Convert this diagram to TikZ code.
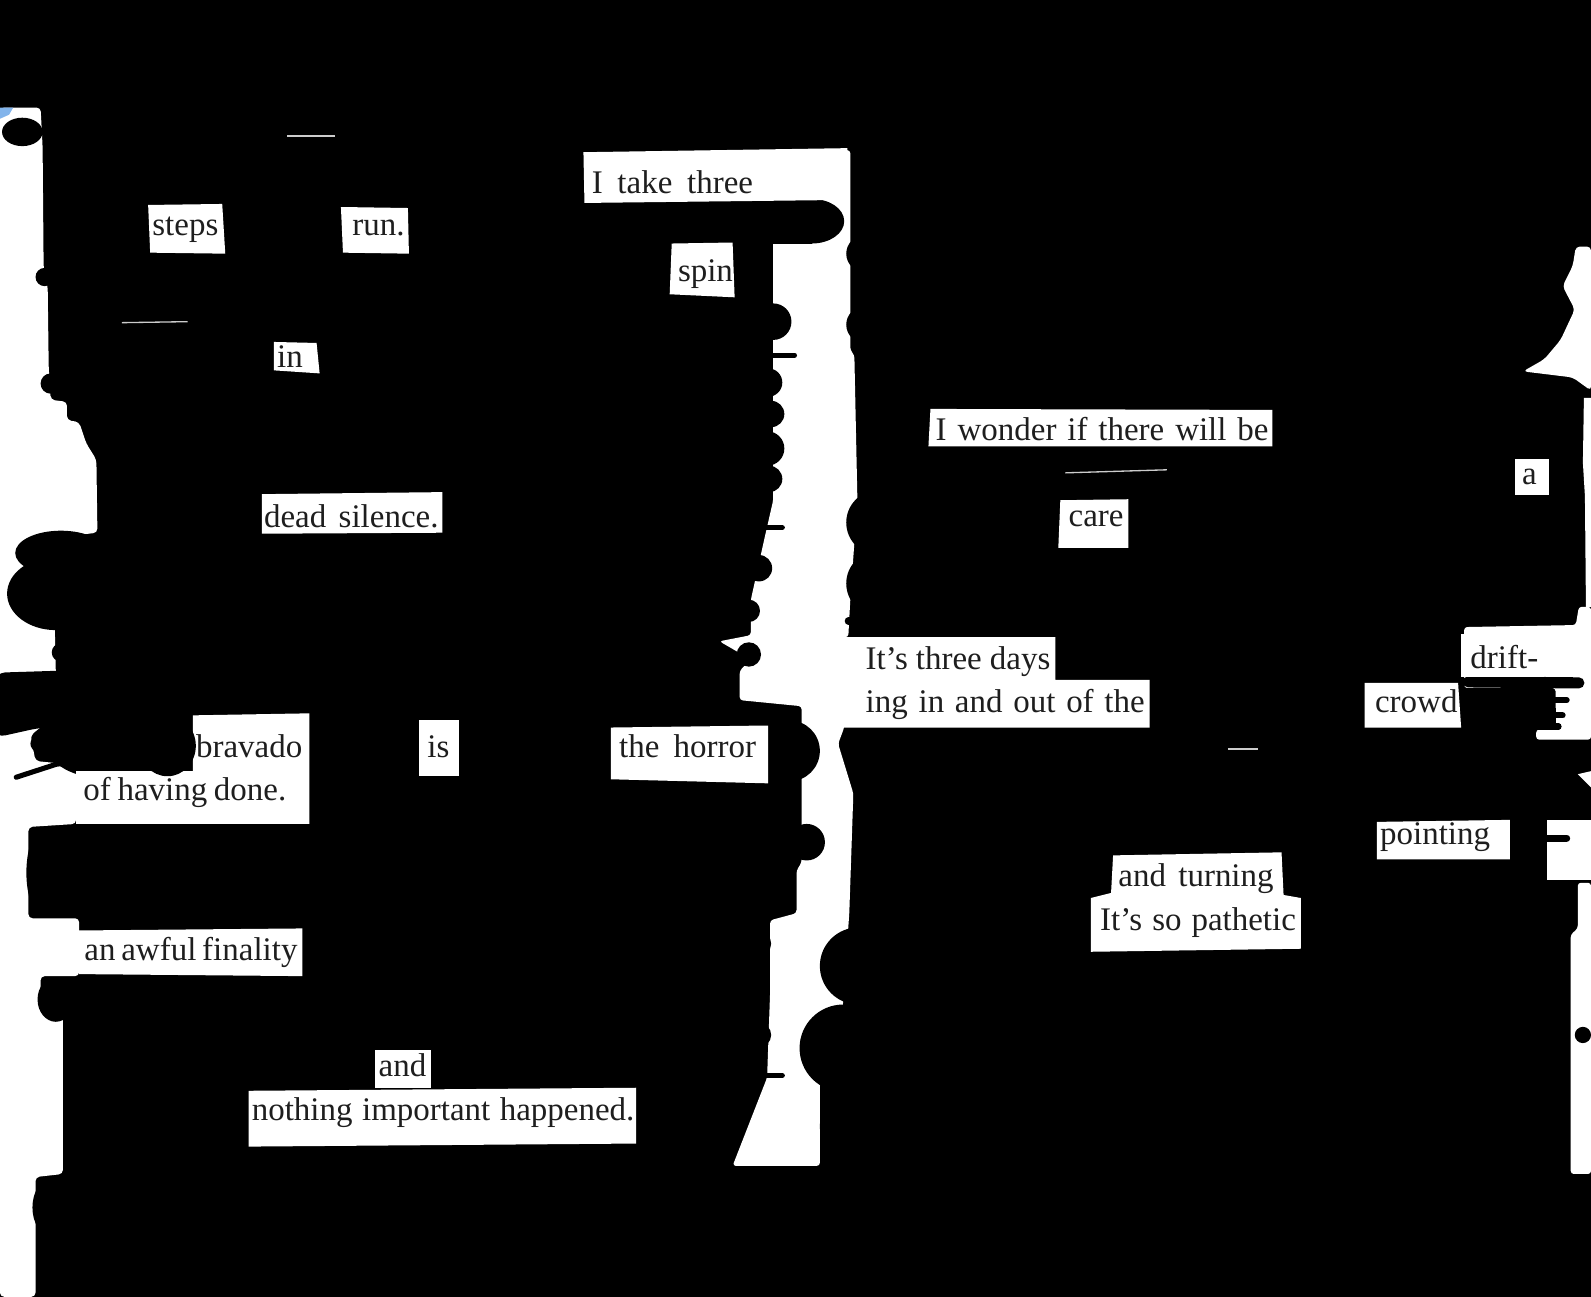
\documentclass[tikz,border=0pt]{standalone}
\usepackage{fontspec}
\setmainfont{Liberation Serif}
\definecolor{tint}{RGB}{130,180,235}
\definecolor{inkgray}{RGB}{30,30,30}
\newcommand{\spreadto}[2]{\makebox[#1pt][s]{#2}}
\begin{document}
\begin{tikzpicture}[x=1pt,y=-1pt,
  paper/.style={fill=white,draw=none},
  blot/.style={fill=black,draw=none},
  mk/.style={draw=black,line width=6pt,line cap=round},
  scratch/.style={draw=white!80!black,line width=1.3pt},
  word/.style={anchor=base west,inner sep=0pt,text=inkgray,font=\fontsize{32.5}{38}\selectfont}]
\useasboundingbox (0,0) rectangle (1568,1278);
\fill[black] (0,0) rectangle (1568,1278);

% ---------- left margin ----------
\fill[paper,rounded corners=4pt] (0,106) -- (40,106) -- (42,145) -- (43,264) -- (47,283) -- (48,362)
  -- (50,394) -- (66,396) -- (66,414) -- (78,416) -- (85,437) -- (95,453) -- (96,525) -- (52,530)
  -- (55,663) -- (60,700) -- (30,725) -- (35,750) -- (75,754) -- (75,812) -- (28,815) -- (28,905)
  -- (78,905) -- (78,962) -- (40,962) -- (40,990) -- (62,1000) -- (62,1157) -- (35,1160)
  -- (35,1278) -- (0,1278) -- cycle;
\fill[tint] (0,106) -- (13,106) -- (9,113) -- (0,117) -- cycle;
\fill[blot] (22,130) ellipse [x radius=20, y radius=14];
\fill[blot] (44,273) circle (9);
\fill[blot] (50,378) circle (10);
% blob reaching the edge above the band
\fill[blot] (60,545) ellipse [x radius=45, y radius=22];
\fill[blot] (55,585) ellipse [x radius=48, y radius=36];
\fill[blot] (60,643) circle (9);
% band to the left edge
\fill[blot,rounded corners=10pt] (-5,663) -- (90,660) -- (90,716) -- (40,717) -- (-5,727) -- cycle;
\fill[blot] (50,733) ellipse [x radius=20, y radius=12];
\fill[blot] (110,740) ellipse [x radius=60, y radius=28];
\draw[mk,line width=5pt] (16,766) -- (56,753) -- (110,750);
\fill[blot] (40,860) ellipse [x radius=14, y radius=40];
\fill[blot] (55,985) ellipse [x radius=18, y radius=22];
\fill[blot] (50,1190) ellipse [x radius=18, y radius=28];
\fill[blot] (55,1250) ellipse [x radius=12, y radius=22];

% ---------- gutter ----------
\fill[paper,rounded corners=3pt] (740,148) -- (838,148) -- (838,345) -- (842,350) -- (845,493) -- (838,591)
  -- (836,628) -- (832,628) -- (832,717) -- (826,733) -- (841,782) -- (837,900) -- (830,1000)
  -- (808,1068) -- (808,1149) -- (722,1149) -- (756,1062) -- (759,977) -- (759,907) -- (785,900)
  -- (785,858) -- (790,850) -- (790,696) -- (729,690) -- (729,661) -- (740,650) -- (709,632)
  -- (740,626) -- (740,591) -- (754,528) -- (762,493) -- (762,240) -- (760,197) -- (740,197) -- cycle;
% left-page bulges into the gutter
\fill[blot] (740,196) rectangle (800,240);
\fill[blot] (800,218) ellipse [x radius=32, y radius=22];
\fill[blot] (762,317) circle (18);
\draw[mk,line width=5pt] (758,350) -- (783,350);
\fill[blot] (757,377) circle (14);
\fill[blot] (760,408) circle (13);
\fill[blot] (756,442) circle (17);
\fill[blot] (758,472) circle (13);
\draw[mk,line width=5pt] (755,520) -- (771,520);
\fill[blot] (748,560) circle (13);
\fill[blot] (738,602) circle (11);
\fill[blot] (738,645) circle (12);
\fill[blot] (778,740) circle (30);
\fill[blot] (795,830) circle (18);
\fill[blot] (748,930) circle (12);
\fill[blot] (748,1020) circle (12);
\draw[mk,line width=5pt] (755,1060) -- (771,1060);
% right-page bulges into the gutter
\fill[blot] (852,250) circle (18);
\fill[blot] (852,320) circle (18);
\fill[blot] (866,515) circle (32);
\fill[blot] (866,575) circle (32);
\draw[mk,line width=7pt] (836,612) -- (866,612);
\fill[blot] (846,952) circle (38);
\fill[blot] (831,1033) circle (43);
\fill[blot] (840,1110) circle (32);

% ---------- right margin ----------
\fill[paper,rounded corners=4pt] (1553,243) -- (1568,243) -- (1568,385) -- (1550,372) -- (1501,366)
  -- (1522,354) -- (1538,335) -- (1552,305) -- (1540,282) -- (1550,262) -- cycle;
\fill[paper] (1561,392) -- (1568,392) -- (1568,598) -- (1563,598) -- (1562,489) -- (1560,456) -- cycle;
\fill[paper,rounded corners=3pt] (1443,618) -- (1553,616) -- (1556,598) -- (1568,598) -- (1568,729)
  -- (1514,729) -- (1514,719) -- (1533,719) -- (1533,678) -- (1443,678) -- cycle;
\draw[mk,line width=11pt] (1447,672) -- (1556,673);
\draw[mk,line width=6pt] (1500,690) -- (1544,690);
\draw[mk,line width=6pt] (1500,705) -- (1540,705);
\fill[blot] (1505,698) rectangle (1533,719);
\draw[mk,line width=6pt] (1500,716) -- (1536,716);
\fill[paper] (1555,763) -- (1568,760) -- (1568,776) -- cycle;
\fill[paper] (1525,808) -- (1568,808) -- (1568,867) -- (1525,867) -- cycle;
\draw[mk,line width=7pt] (1520,826) -- (1544,826);
\fill[paper,rounded corners=3pt] (1555,870) -- (1568,870) -- (1568,1157) -- (1548,1157) -- (1548,921)
  -- (1555,915) -- cycle;
\fill[blot] (1560,1020) circle (8);

% faint scratches in the ink
\draw[scratch] (120,318) -- (185,317);
\draw[scratch] (283,134) -- (330,134);
\draw[scratch] (1050,466) -- (1150,463);
\draw[scratch] (1210,738) -- (1240,738);

% ---------- uncovered words ----------
\fill[paper] (575,150) -- (835,146) -- (835,197) -- (576,200) -- cycle;
\fill[paper] (146,202) -- (219,201) -- (222,250) -- (148,249) -- cycle;
\fill[paper] (336,204) -- (402,205) -- (403,250) -- (338,249) -- cycle;
\fill[paper] (662,240) -- (722,239) -- (724,293) -- (660,290) -- cycle;
\fill[paper] (270,337) -- (312,338) -- (315,368) -- (270,365) -- cycle;
\fill[paper] (258,487) -- (436,485) -- (436,525) -- (258,526) -- cycle;
\fill[paper] (917,403) -- (1254,404) -- (1254,440) -- (915,440) -- cycle;
\fill[paper] (1493,452) -- (1527,452) -- (1527,488) -- (1493,488) -- cycle;
\fill[paper] (1045,493) -- (1112,492) -- (1112,540) -- (1043,540) -- cycle;
\fill[paper] (815,628) -- (1040,628) -- (1040,670) -- (1133,670) -- (1133,717) -- (815,717) -- cycle;
\fill[paper] (1440,625) -- (1522,620) -- (1522,667) -- (1440,667) -- cycle;
\fill[paper] (1345,673) -- (1437,673) -- (1440,717) -- (1345,717) -- cycle;
\fill[paper] (190,705) -- (305,703) -- (305,812) -- (75,812) -- (75,760) -- (190,760) -- cycle;
\fill[blot] (165,735) ellipse [x radius=28, y radius=30];
\fill[paper] (413,710) -- (452,710) -- (452,765) -- (413,765) -- cycle;
\fill[paper] (602,717) -- (757,715) -- (757,772) -- (602,768) -- cycle;
\fill[paper] (1357,810) -- (1488,808) -- (1488,847) -- (1357,847) -- cycle;
\fill[paper] (1097,843) -- (1263,840) -- (1265,882) -- (1282,885) -- (1282,935) -- (1075,938)
  -- (1075,885) -- (1095,880) -- cycle;
\fill[paper] (78,917) -- (298,915) -- (298,962) -- (78,960) -- cycle;
\fill[paper] (370,1035) -- (425,1035) -- (425,1072) -- (370,1072) -- cycle;
\fill[paper] (245,1075) -- (627,1072) -- (627,1127) -- (245,1130) -- cycle;

\node[word] (t1) at (583,191) {\spreadto{159}{I take three}};
\node[word] (t2) at (150,232) {steps};
\node[word] (t3) at (347,232) {run.};
\node[word] (t4) at (668,277) {spin};
\node[word] (t5) at (273,362) {in};
\node[word] (t6) at (260,520) {\spreadto{172}{dead silence.}};
\node[word] (t7) at (922,434) {\spreadto{328}{I wonder if there will be}};
\node[word] (t8) at (1500,477) {a};
\node[word] (t9) at (1053,519) {care};
\node[word] (t10) at (853,660) {\spreadto{182}{It’s three days}};
\node[word] (t11) at (853,702) {\spreadto{275}{ing in and out of the}};
\node[word] (t12) at (1449,659) {drift-};
\node[word] (t13) at (1355,702) {crowd};
\node[word] (t14) at (193,747) {bravado};
\node[word] (t15) at (82,789) {\spreadto{200}{of having done.}};
\node[word] (t16) at (421,747) {is};
\node[word] (t17) at (610,747) {\spreadto{135}{the horror}};
\node[word] (t18) at (1360,832) {pointing};
\node[word] (t19) at (1102,874) {\spreadto{153}{and turning}};
\node[word] (t20) at (1084,917) {\spreadto{193}{It’s so pathetic}};
\node[word] (t21) at (83,947) {\spreadto{210}{an awful finality}};
\node[word] (t22) at (373,1061) {and};
\node[word] (t23) at (248,1104) {\spreadto{377}{nothing important happened.}};
\end{tikzpicture}
\end{document}
